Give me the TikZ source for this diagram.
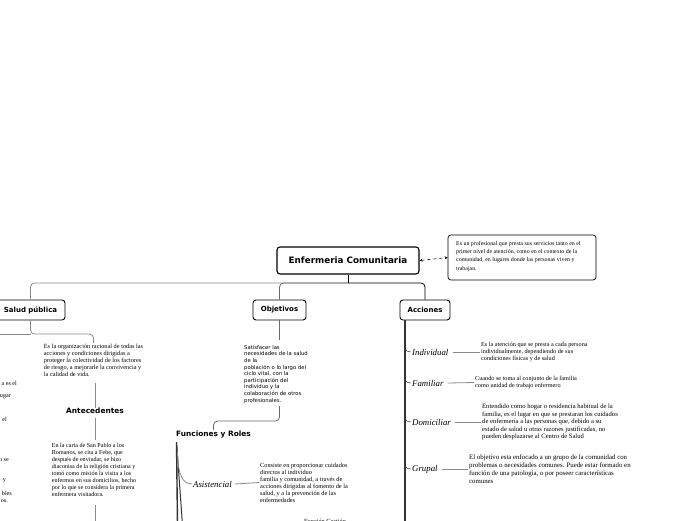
\documentclass[tikz,border=0pt]{standalone}
\usepackage{fontspec}
\setmainfont{Liberation Serif}
\newfontfamily\dv{DejaVu Sans}
\usetikzlibrary{arrows.meta}
\definecolor{lg}{HTML}{8A8A8A}
\definecolor{mg}{HTML}{6A6A6A}
\definecolor{dk}{HTML}{333333}
\tikzset{
  topic/.style={draw=black, rounded corners=3pt, line width=0.9pt, fill=white, inner sep=0pt,
    font=\dv\bfseries\fontsize{7}{8}\selectfont, minimum height=20pt},
  plain/.style={inner sep=0pt, font=\dv\bfseries\fontsize{7.4}{8}\selectfont},
  txt/.style={align=left, inner sep=1pt},
  lab/.style={inner sep=1pt, font=\itshape\fontsize{8.8}{10}\selectfont},
  lnk/.style={line width=0.8pt},
  trunk/.style={line width=1.4pt, draw=dk},
}
\begin{document}
\begin{tikzpicture}[x=1pt,y=-1pt]
\useasboundingbox (0,0) rectangle (696,520);
% main
\node[topic, font=\dv\bfseries\fontsize{8.8}{10}\selectfont, minimum width=142pt, minimum height=27pt, line width=1.1pt] (main) at (348,260.5) {Enfermeria Comunitaria};
\node[draw=black, rounded corners=3pt, line width=0.7pt, minimum width=148pt, minimum height=45pt, inner sep=0pt] (desc) at (522,257.5) {};
\node[txt, anchor=north west, font=\fontsize{5.9}{8.3}\selectfont] (desct) at (455,240) {Es un profesional que presta sus servicios tanto en el\\primer nivel de atención, como en el contexto de la\\comunidad, en lugares donde las personas viven y\\trabajan.};
\draw[dashed, line width=0.6pt, {Stealth[length=3pt,width=3pt,open]}-{Stealth[length=3pt,width=3pt]}] (main.east) -- (desc.west);
% children
\node[topic, minimum width=69pt] (sp) at (30.5,310) {Salud pública};
\node[topic, minimum width=53pt] (ob) at (279.5,310) {Objetivos};
\node[topic, minimum width=50pt] (ac) at (425,310) {Acciones};
\coordinate (hub) at (348,283);
\draw[lnk, black] (main.south) -- (hub);
\draw[lnk, lg, rounded corners=4pt] (hub) -| (sp.north);
\draw[lnk, mg, rounded corners=4pt] (hub) -| (ob.north);
\draw[lnk, black, rounded corners=4pt] (hub) -| (ac.north);
% Salud publica branch
\node[txt, anchor=north, font=\fontsize{6.3}{7}\selectfont] (sp1) at (93.5,343) {Es la organización racional de todas las\\acciones y condiciones dirigidas a\\proteger la colectividad de los factores\\de riesgo, a mejorarle la convivencia y\\la calidad de vida.};
\coordinate (spj) at (30.5,334);
\draw[lnk, lg, rounded corners=4pt] (sp.south) -- (spj) -| (sp1.north);
\draw[lnk, lg] (spj) -- (-5,334);
\node[plain] (ant) at (95,411) {Antecedentes};
\draw[lnk, lg] (95,383) -- (ant.north);
\node[txt, anchor=north, font=\fontsize{6.1}{7}\selectfont] (sp2) at (94,442) {En la carta de San Pablo a los\\Romanos, se cita a Febe, que\\después de enviudar, se hizo\\diaconisa de la religión cristiana y\\tomó como misión la visita a los\\enfermos en sus domicilios, hecho\\por lo que se considera la primera\\enfermera visitadora.};
\draw[lnk, lg] (ant.south) ++(0,4) -- (95,440);
\draw[lnk, lg] (95,505) -- (95,525);
% left fragments
\begin{scope}[every node/.style={inner sep=0pt, font=\fontsize{6.1}{7}\selectfont}]
\node[anchor=east] (f1) at (17,383) {a es el};
\node[anchor=east] (f2) at (11,397) {ugar};
\node[anchor=east] (f3) at (7,419) {el};
\node[anchor=east] (f4) at (9,460) {n se};
\node[anchor=east] (f5) at (6,481) {y};
\node[anchor=east] (f6) at (12,493) {bles};
\node[anchor=east] (f7) at (8,501) {os.};
\end{scope}
% Objetivos branch
\node[txt, anchor=north west, font=\dv\fontsize{5.3}{6.6}\selectfont] (obt) at (243,344) {Satisfacer las\\necesidades de la salud\\de la\\población o lo largo del\\ciclo vital, con la\\participación del\\individuo y la\\colaboración de otros\\profesionales.};
\draw[lnk, mg] (ob.south) -- (279.5,340);
\node[plain] (fr) at (213.5,434) {Funciones y Roles};
\coordinate (obj) at (279.5,421);
\draw[lnk, mg, rounded corners=4pt] (279.5,406) -- (obj) -| (fr.north);
\coordinate (frt) at (176.5,442);
\draw[trunk] (frt) -- (177.5,525);
\draw[trunk, line width=1pt] (frt) -- (182.5,525);
\node[lab] (as) at (212.5,484) {Asistencial};
\draw[lnk, lg] (177.5,452) .. controls (178,476) and (183,484) .. (as.west);
\node[txt, anchor=west, font=\fontsize{6.3}{7}\selectfont] (ast) at (259,482.5) {Consiste en proporcionar cuidados\\directos al individuo\\familia y comunidad, a través de\\acciones dirigidas al fomento de la\\salud, y a la prevención de las\\enfermedades};
\draw[lnk, lg] (as.east) ++(2,0) -- (ast.west);
\node[txt, anchor=north west, font=\fontsize{6.3}{7}\selectfont] (fg) at (303,517.5) {Función Gestión};
% Acciones branch
\coordinate (act) at (405,320);
\draw[trunk, line width=1.6pt] (act) -- (405,525);
\foreach \nm/\lbl/\yy in {in/Individual/352, fa/Familiar/383, do/Domiciliar/422, gr/Grupal/469}{
  \node[lab, anchor=west] (\nm) at (411,\yy) {\lbl};
  \draw[lnk, dk, line width=0.5pt] (405,\yy-6) .. controls (405.5,\yy-1) .. (\nm.west);
}
\node[txt, anchor=west, font=\fontsize{6.2}{7}\selectfont] (int) at (480,352) {Es la atención que se presta a cada persona\\individualmente, dependiendo de sus\\condiciones físicas y de salud};
\node[txt, anchor=west, font=\fontsize{6.2}{7}\selectfont] (fat) at (474,382.5) {Cuando se toma al conjunto de la familia\\como unidad de trabajo enfermero};
\node[txt, anchor=west, font=\fontsize{6.6}{7.5}\selectfont] (dot) at (481,422) {Entendido como hogar o residencia habitual de la\\familia, es el lugar en que se prestaran los cuidados\\de enfermería a las personas que, debido a su\\estado de salud u otras razones justificadas, no\\pueden desplazarse al Centro de Salud};
\node[txt, anchor=west, font=\fontsize{6.8}{8}\selectfont] (grt) at (468,469) {El objetivo esta enfocado a un grupo de la comunidad con\\problemas o necesidades comunes. Puede estar formado en\\función de una patología, o por poseer características\\comunes};
\draw[lnk, lg] (in.east) ++(3,0) -- (int.west);
\draw[lnk, lg] (fa.east) ++(3,0) -- (fat.west);
\draw[lnk, lg] (do.east) ++(3,0) -- (dot.west);
\draw[lnk, lg] (gr.east) ++(3,0) -- (grt.west);
\end{tikzpicture}
\end{document}
